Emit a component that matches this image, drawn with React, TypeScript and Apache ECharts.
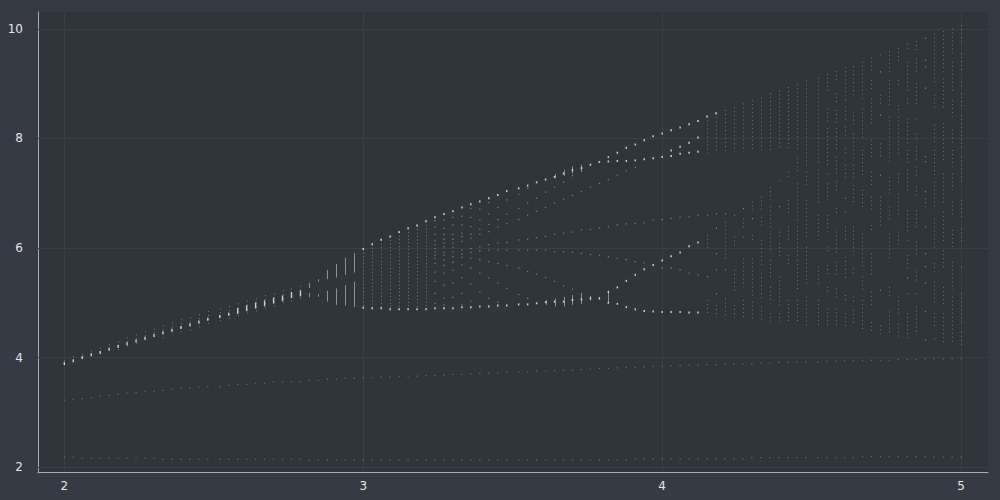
import React, { useEffect, useRef } from "react";
import * as echarts from "echarts";

// Parameter columns (x) of the diagram
const COLUMN_X = [
  2.0, 2.03, 2.06, 2.09, 2.12, 2.15, 2.18, 2.21, 2.24, 2.27,
  2.3, 2.33, 2.36, 2.39, 2.42, 2.45, 2.48, 2.52, 2.55, 2.58,
  2.61, 2.64, 2.67, 2.7, 2.73, 2.76, 2.79, 2.82, 2.85, 2.88,
  2.91, 2.94, 2.97, 3.0, 3.03, 3.06, 3.09, 3.12, 3.15, 3.18,
  3.21, 3.24, 3.27, 3.3, 3.33, 3.36, 3.39, 3.42, 3.45, 3.48,
  3.52, 3.55, 3.58, 3.61, 3.64, 3.67, 3.7, 3.73, 3.76, 3.79,
  3.82, 3.85, 3.88, 3.91, 3.94, 3.97, 4.0, 4.03, 4.06, 4.09,
  4.12, 4.15, 4.18, 4.21, 4.24, 4.27, 4.3, 4.33, 4.36, 4.39,
  4.42, 4.45, 4.48, 4.52, 4.55, 4.58, 4.61, 4.64, 4.67, 4.7,
  4.73, 4.76, 4.79, 4.82, 4.85, 4.88, 4.91, 4.94, 4.97, 5.0,
];

const X_TICKS = [2, 3, 4, 5];
const Y_TICKS = [2, 4, 6, 8, 10];

// Bottom faint line (one value per column)
const FLOOR_Y = [
  2.18, 2.18, 2.16, 2.16, 2.16, 2.16, 2.16, 2.16, 2.16, 2.16,
  2.16, 2.14, 2.14, 2.14, 2.14, 2.14, 2.14, 2.14, 2.14, 2.14,
  2.14, 2.14, 2.14, 2.14, 2.14, 2.14, 2.14, 2.12, 2.12, 2.12,
  2.12, 2.12, 2.12, 2.12, 2.12, 2.12, 2.12, 2.12, 2.12, 2.12,
  2.12, 2.12, 2.12, 2.12, 2.12, 2.12, 2.13, 2.13, 2.13, 2.13,
  2.13, 2.13, 2.13, 2.13, 2.13, 2.13, 2.13, 2.13, 2.13, 2.13,
  2.13, 2.13, 2.13, 2.15, 2.15, 2.15, 2.15, 2.15, 2.15, 2.15,
  2.15, 2.15, 2.15, 2.15, 2.15, 2.15, 2.17, 2.17, 2.17, 2.17,
  2.17, 2.17, 2.17, 2.17, 2.17, 2.17, 2.17, 2.17, 2.19, 2.19,
  2.19, 2.19, 2.19, 2.19, 2.19, 2.19, 2.18, 2.18, 2.18, 2.18,
];

// Second faint line (one value per column)
const DRIFT_Y = [
  3.22, 3.24, 3.25, 3.27, 3.29, 3.31, 3.33, 3.35, 3.36, 3.38,
  3.38, 3.4, 3.42, 3.44, 3.44, 3.46, 3.47, 3.47, 3.49, 3.51,
  3.51, 3.53, 3.53, 3.55, 3.55, 3.56, 3.56, 3.58, 3.58, 3.6,
  3.6, 3.62, 3.62, 3.63, 3.63, 3.64, 3.64, 3.65, 3.66, 3.66,
  3.67, 3.67, 3.68, 3.69, 3.69, 3.7, 3.71, 3.71, 3.72, 3.73,
  3.73, 3.74, 3.75, 3.75, 3.76, 3.77, 3.77, 3.78, 3.79, 3.8,
  3.8, 3.81, 3.82, 3.82, 3.83, 3.84, 3.84, 3.85, 3.85, 3.86,
  3.86, 3.87, 3.87, 3.88, 3.88, 3.89, 3.89, 3.9, 3.9, 3.91,
  3.91, 3.92, 3.92, 3.92, 3.93, 3.93, 3.94, 3.94, 3.94, 3.95,
  3.95, 3.95, 3.96, 3.96, 3.96, 3.97, 3.97, 3.97, 3.98, 3.98,
];

// Single branch, columns 0..26
const STEM_CORE_Y = [
  3.89, 3.94, 4.0, 4.05, 4.09, 4.15, 4.2, 4.25, 4.3, 4.35, 4.4, 4.45, 4.5, 4.55,
  4.6, 4.65, 4.7, 4.75, 4.79, 4.85, 4.9, 4.95, 4.99, 5.04, 5.08, 5.14, 5.17,
];
const STEM_LOW_Y = [
  3.86, 3.91, 3.95, 4.0, 4.04, 4.09, 4.13, 4.18, 4.22, 4.28, 4.31, 4.35, 4.41, 4.44,
  4.49, 4.53, 4.57, 4.62, 4.66, 4.7, 4.75, 4.81, 4.85, 4.9, 4.95, 4.99, 5.04,
];
const STEM_HIGH_Y = [
  3.95, 4.02, 4.07, 4.13, 4.18, 4.24, 4.3, 4.37, 4.42, 4.48, 4.53, 4.59, 4.64, 4.7,
  4.73, 4.79, 4.85, 4.9, 4.94, 4.99, 5.04, 5.08, 5.14, 5.17, 5.23, 5.26, 5.31,
];

// Two-branch segments, columns 27..32
const SPLIT_START = 27;
const SPLIT_UPPER = [
  [5.27, 5.36], [5.38, 5.43], [5.43, 5.6], [5.46, 5.71], [5.51, 5.82], [5.55, 5.91],
];
const SPLIT_LOWER = [
  [5.1, 5.18], [5.11, 5.16], [5.02, 5.22], [4.96, 5.26], [4.95, 5.32], [4.92, 5.38],
];

// Outer arms from column 33
const ARM_START = 33;
const UPPER_ARM_Y = [
  5.98, 6.07, 6.15, 6.21, 6.29, 6.36, 6.41, 6.49,
  6.56, 6.62, 6.67, 6.74, 6.8, 6.85, 6.91, 6.97, 7.04, 7.09, 7.14, 7.2, 7.25, 7.3,
  7.36, 7.42, 7.46, 7.52,
  7.57, 7.66, 7.74, 7.83, 7.89, 7.97, 8.04, 8.09, 8.15, 8.2, 8.26, 8.32, 8.4, 8.46,
  8.52, 8.57, 8.64, 8.7, 8.75, 8.83, 8.88, 8.94, 8.99, 9.06, 9.11, 9.18, 9.23, 9.3,
  9.32, 9.4, 9.48, 9.54, 9.6, 9.65, 9.73, 9.78, 9.83, 9.92, 9.96, 10.01, 10.07,
];
const LOWER_ARM_Y = [
  4.91, 4.9, 4.9, 4.88, 4.88, 4.88, 4.88, 4.88, 4.9, 4.9, 4.9, 4.92, 4.92, 4.93,
  4.93, 4.95, 4.95, 4.97, 4.97, 4.99, 5.01, 5.02, 5.02, 5.05, 5.06, 5.08, 5.08,
  5.0, 4.98, 4.92, 4.88, 4.85, 4.84, 4.83, 4.83, 4.83, 4.82, 4.82,
];
const DENSE_COLUMNS = 8; // columns 33..40 filled between the arms

// Second period doubling, from column 60
const FORK_START = 60;
const RISING_ARM_Y = [5.2, 5.28, 5.4, 5.51, 5.61, 5.69, 5.77, 5.85, 5.92, 6.03, 6.1];
const UPPER_INNER_Y = [7.58, 7.59, 7.59, 7.6, 7.62, 7.64, 7.66, 7.68, 7.72, 7.74, 7.76];
const UPPER_FORK_START = 67;
const UPPER_FORK_Y = [7.78, 7.85, 7.92, 8.02];

const LOWER_STREAK_START = 53;
const LOWER_STREAKS = [
  [4.96, 5.05], [4.93, 5.08], [4.93, 5.11], [4.96, 5.14], [4.98, 5.18], [5.04, 5.12],
  [5.06, 5.1], [5.0, 5.2],
];
const UPPER_STREAK_START = 54;
const UPPER_STREAKS = [[7.27, 7.35], [7.32, 7.43], [7.36, 7.49], [7.39, 7.52]];

// Sparse dots between the arms, columns 41..70
const MID_START = 41;
const MID_DOTS = [
  [6.5, 6.38, 6.25, 6.13, 6.06, 5.99, 5.93, 5.87, 5.81, 5.72, 5.56, 5.39, 5.17, 4.99],
  [6.51, 6.36, 6.25, 6.16, 6.09, 6.02, 5.92, 5.87, 5.78, 5.68, 5.54, 5.32, 5.08, 4.96],
  [6.56, 6.42, 6.25, 6.16, 6.09, 6.01, 5.93, 5.84, 5.74, 5.59, 5.36, 5.1],
  [6.58, 6.42, 6.27, 6.21, 6.12, 5.96, 5.89, 5.83, 5.69, 5.46, 5.17, 4.96],
  [6.72, 6.56, 6.39, 6.25, 6.18, 5.99, 5.92, 5.81, 5.63, 5.34, 5.03],
  [6.71, 6.51, 6.34, 6.25, 6.02, 5.95, 5.79, 5.54, 5.19],
  [6.83, 6.62, 6.43, 6.3, 6.06, 5.96, 5.75, 5.45, 5.08],
  [6.74, 6.52, 6.38, 6.09, 5.96, 5.72, 5.36, 5.01],
  [6.88, 6.62, 6.45, 6.1, 5.96, 5.68, 5.26],
  [6.98, 6.72, 6.52, 6.15, 5.96, 5.63, 5.15],
  [7.09, 6.82, 6.6, 6.16, 5.96, 5.57, 5.08],
  [6.91, 6.67, 6.19, 5.96, 5.52],
  [7.02, 6.74, 6.21, 5.96, 5.46],
  [7.11, 6.82, 6.25, 5.93, 5.39],
  [7.2, 6.89, 6.27, 5.93, 5.31],
  [7.32, 6.96, 6.29, 5.92, 5.25],
  [7.03, 6.33, 5.9],
  [7.11, 6.34, 5.88],
  [7.18, 6.36, 5.87],
  [7.25, 6.39, 5.84],
  [7.33, 6.42, 5.81],
  [7.41, 6.44, 5.79],
  [7.47, 6.45, 5.75],
  [6.46, 5.73],
  [6.51],
  [6.52, 5.63],
  [6.54, 5.63],
  [6.56, 5.6],
  [6.57, 5.54],
  [6.6, 5.51],
];

// Chaotic columns 71..99: dotted stretches [low, high]
const CHAOS_START = 71;
const CHAOS = [
  [[7.73, 8.4], [6.6, 6.6], [5.96, 6.24], [5.48, 5.48], [4.76, 5.05]],
  [[7.76, 8.46], [6.63, 6.63], [6.36, 6.36], [5.9, 5.9], [5.6, 5.6], [5.17, 5.17], [4.73, 4.96]],
  [[7.76, 8.52], [6.63, 6.63], [5.78, 6.48], [5.6, 5.6], [4.75, 5.08]],
  [[7.76, 8.57], [6.6, 6.6], [6.02, 6.21], [5.17, 5.6], [4.73, 4.96]],
  [[7.76, 8.64], [6.72, 6.72], [6.36, 6.54], [6.15, 6.21], [5.29, 5.81], [4.72, 5.05]],
  [[7.79, 8.7], [6.69, 6.85], [6.54, 6.54], [6.09, 6.24], [5.11, 5.81], [4.69, 5.02]],
  [[7.79, 8.75], [6.69, 6.94], [6.39, 6.57], [5.66, 6.15], [5.08, 5.54], [4.67, 4.93]],
  [[7.79, 8.83], [6.88, 7.11], [6.33, 6.76], [5.9, 6.27], [5.42, 5.78], [4.99, 5.29], [4.65, 4.81]],
  [[7.79, 8.88], [7.18, 7.24], [6.76, 6.76], [6.21, 6.3], [5.84, 6.09], [4.93, 5.48], [4.65, 4.81]],
  [[7.79, 8.94], [7.27, 7.39], [6.63, 6.88], [6.15, 6.39], [5.66, 5.87], [4.62, 5.05]],
  [[7.79, 8.99], [7.36, 7.64], [6.45, 7.18], [5.84, 6.39], [5.23, 5.78], [4.61, 5.05]],
  [[7.49, 9.06], [7.12, 7.39], [6.15, 6.88], [5.29, 6.02], [4.58, 5.11]],
  [[7.55, 9.11], [6.82, 7.43], [6.15, 6.6], [5.29, 5.66], [4.59, 5.05]],
  [[8.83, 9.18], [8.28, 8.55], [7.49, 8.19], [7.3, 7.36], [6.85, 7.18], [6.3, 6.6], [5.9, 6.03], [5.48, 5.69], [5.14, 5.29], [4.56, 4.9]],
  [[9.04, 9.23], [8.64, 8.83], [8.25, 8.52], [7.79, 8.19], [7.3, 7.67], [7.0, 7.21], [6.63, 6.73], [5.9, 6.3], [5.48, 5.75], [5.05, 5.26], [4.53, 4.9]],
  [[8.67, 9.3], [8.34, 8.58], [8.03, 8.22], [7.73, 7.82], [7.27, 7.52], [6.91, 6.91], [6.6, 6.66], [6.09, 6.39], [5.42, 5.84], [4.99, 5.14], [4.53, 4.81]],
  [[8.73, 9.32], [8.25, 8.49], [7.64, 8.09], [7.27, 7.52], [6.79, 7.15], [5.87, 6.39], [5.48, 5.63], [5.02, 5.11], [4.59, 4.87]],
  [[8.73, 9.4], [7.97, 8.55], [7.3, 7.79], [6.73, 7.06], [5.66, 6.27], [5.23, 5.48], [4.47, 5.05]],
  [[9.19, 9.48], [8.89, 9.07], [8.22, 8.73], [7.64, 7.97], [7.15, 7.39], [6.66, 6.94], [6.33, 6.42], [5.48, 5.9], [4.96, 5.2], [4.47, 4.65]],
  [[9.5, 9.54], [9.22, 9.22], [8.61, 8.8], [8.43, 8.43], [7.67, 7.91], [7.33, 7.33], [6.36, 6.94], [5.23, 5.23], [4.43, 4.59]],
  [[9.22, 9.6], [8.58, 9.07], [7.52, 8.4], [6.97, 7.3], [6.51, 6.76], [5.81, 6.27], [5.11, 5.29], [4.41, 4.84]],
  [[9.37, 9.65], [8.95, 9.07], [8.52, 8.61], [7.67, 8.4], [7.18, 7.36], [6.57, 7.0], [6.02, 6.3], [4.78, 5.11], [4.38, 4.62]],
  [[9.59, 9.73], [8.83, 9.4], [8.64, 8.73], [7.91, 8.37], [7.55, 7.79], [7.0, 7.43], [6.27, 6.69], [6.09, 6.15], [5.6, 5.87], [5.45, 5.45], [5.14, 5.17], [4.35, 4.81]],
  [[9.56, 9.78], [9.22, 9.46], [8.58, 9.01], [8.34, 8.37], [7.94, 8.09], [7.61, 7.85], [7.3, 7.49], [6.94, 7.12], [6.36, 6.69], [5.84, 6.12], [5.36, 5.57], [5.11, 5.17], [4.41, 4.93]],
  [[9.83, 9.83], [9.43, 9.43], [9.31, 9.31], [8.92, 8.92], [7.67, 7.67], [7.58, 7.58], [7.03, 7.03], [6.73, 6.91], [6.39, 6.39], [5.9, 5.9], [5.66, 5.66], [5.36, 5.36], [4.84, 4.84], [4.32, 4.32]],
  [[9.01, 9.92], [8.52, 8.8], [7.91, 8.25], [7.3, 7.79], [6.69, 7.21], [5.96, 6.54], [5.54, 5.72], [4.99, 5.39], [4.56, 4.81], [4.29, 4.35]],
  [[9.22, 9.96], [8.52, 9.1], [7.55, 8.28], [6.82, 7.36], [6.09, 6.66], [5.6, 5.96], [4.93, 5.29], [4.27, 4.81]],
  [[9.56, 10.01], [8.83, 9.4], [8.4, 8.7], [7.91, 8.16], [7.49, 7.79], [7.06, 7.36], [6.57, 6.85], [5.96, 6.33], [5.23, 5.75], [4.26, 5.11]],
  [[9.71, 10.07], [9.19, 9.56], [8.95, 9.04], [8.58, 8.83], [7.79, 8.43], [7.18, 7.67], [6.57, 6.88], [6.09, 6.36], [5.6, 5.66], [4.62, 5.17], [4.21, 4.47]],
];

// ---------- helpers that pair values with their columns ----------
const pointsFrom = (start: number, ys: number[]) =>
  ys.map((y, k) => [COLUMN_X[start + k], y]);
const rangesFrom = (start: number, pairs: number[][]) =>
  pairs.map((p, k) => [COLUMN_X[start + k], p[0], p[1]]);
const dotsFrom = (start: number, groups: number[][]) => {
  const out: number[][] = [];
  groups.forEach((g, k) => g.forEach((y) => out.push([COLUMN_X[start + k], y])));
  return out;
};
const groupRangesFrom = (start: number, groups: number[][][]) => {
  const out: number[][] = [];
  groups.forEach((g, k) => g.forEach((p) => out.push([COLUMN_X[start + k], p[0], p[1]])));
  return out;
};

const makeSegmentRenderer = (stroke: string, dash: number[] | null, dotFill: string) =>
  (params: any, api: any) => {
    const x = api.value(0);
    const lo = api.value(1);
    const hi = api.value(2);
    const a = api.coord([x, hi]);
    const b = api.coord([x, lo]);
    const px = Math.round(a[0]) + 0.5;
    if (b[1] - a[1] < 1.5) {
      return {
        type: "rect",
        shape: { x: px - 0.5, y: a[1] - 0.5, width: 1, height: 1.2 },
        style: { fill: dotFill },
      };
    }
    const style: any = { stroke, lineWidth: 1, fill: null };
    if (dash) style.lineDash = dash;
    return {
      type: "line",
      shape: { x1: px, y1: a[1], x2: px, y2: b[1] },
      style,
    };
  };

const FAINT = "rgba(196,198,186,0.5)";
const DOT = "rgba(200,202,190,0.6)";
const BRIGHT = "#f4f4f0";

export default function App() {
  const ref = useRef<HTMLDivElement>(null);

  useEffect(() => {
    if (!ref.current) return;
    const chart = echarts.init(ref.current, null, { renderer: "svg" });

    const stemSpread = STEM_CORE_Y.map((_, i) => [COLUMN_X[i], STEM_LOW_Y[i], STEM_HIGH_Y[i]]);
    const dense = UPPER_ARM_Y.slice(0, DENSE_COLUMNS).map((top, k) => [
      COLUMN_X[ARM_START + k],
      LOWER_ARM_Y[k],
      top,
    ]);
    const brightArms = [
      ...pointsFrom(ARM_START, UPPER_ARM_Y.slice(0, 40)),
      ...pointsFrom(ARM_START, LOWER_ARM_Y),
      ...pointsFrom(FORK_START, RISING_ARM_Y),
      ...pointsFrom(FORK_START, UPPER_INNER_Y),
      ...pointsFrom(UPPER_FORK_START, UPPER_FORK_Y),
    ];

    const axisCommon = {
      type: "value" as const,
      axisLine: { show: true, onZero: false, lineStyle: { color: "#a9abb0", width: 1 } },
      splitLine: { show: false },
    };

    chart.setOption({
      animation: false,
      backgroundColor: "#363a44",
      grid: {
        left: 38,
        top: 12,
        right: 12,
        bottom: 28,
        show: true,
        backgroundColor: "#30343b",
        borderWidth: 0,
      },
      xAxis: {
        ...axisCommon,
        min: 1.912,
        max: 5.09,
        axisTick: {
          show: true,
          inside: true,
          length: 5,
          customValues: X_TICKS,
          lineStyle: { color: "#a9abb0" },
        },
        axisLabel: {
          customValues: X_TICKS,
          color: "#e6e6e6",
          fontSize: 12,
          fontFamily: "DejaVu Sans",
          margin: 8,
        },
      },
      yAxis: {
        ...axisCommon,
        min: 1.909,
        max: 10.31,
        axisTick: {
          show: true,
          inside: true,
          length: 5,
          customValues: Y_TICKS,
          lineStyle: { color: "#a9abb0" },
        },
        axisLabel: {
          customValues: Y_TICKS,
          color: "#e6e6e6",
          fontSize: 12,
          fontFamily: "DejaVu Sans",
          margin: 15,
        },
      },
      series: [
        {
          type: "scatter",
          silent: true,
          symbol: "rect",
          symbolSize: 1.2,
          itemStyle: { color: FAINT },
          data: pointsFrom(0, FLOOR_Y),
          z: 2,
          markLine: {
            silent: true,
            symbol: ["none", "none"],
            label: { show: false },
            lineStyle: { color: "#3a3e47", width: 1, type: "solid" },
            data: [
              ...X_TICKS.map((v) => ({ xAxis: v })),
              ...Y_TICKS.map((v) => ({ yAxis: v })),
            ],
            z: 1,
          },
        },
        {
          type: "scatter",
          silent: true,
          symbol: "rect",
          symbolSize: 1.2,
          itemStyle: { color: FAINT },
          data: pointsFrom(0, DRIFT_Y),
          z: 2,
        },
        {
          type: "custom",
          silent: true,
          renderItem: makeSegmentRenderer("rgba(190,192,184,0.5)", [1, 3], DOT),
          encode: { x: 0, y: [1, 2] },
          data: stemSpread,
          z: 3,
        },
        {
          type: "scatter",
          silent: true,
          symbol: "rect",
          symbolSize: (_v: any, p: any) => (p.dataIndex > 18 ? [1.4, 6] : [1.4, 3]),
          itemStyle: { color: BRIGHT },
          data: pointsFrom(0, STEM_CORE_Y),
          z: 5,
        },
        {
          type: "custom",
          silent: true,
          renderItem: makeSegmentRenderer("rgba(205,206,200,0.6)", null, BRIGHT),
          encode: { x: 0, y: [1, 2] },
          data: [...rangesFrom(SPLIT_START, SPLIT_UPPER), ...rangesFrom(SPLIT_START, SPLIT_LOWER)],
          z: 4,
        },
        {
          type: "custom",
          silent: true,
          renderItem: makeSegmentRenderer("rgba(190,192,182,0.5)", [1, 2.5], DOT),
          encode: { x: 0, y: [1, 2] },
          data: dense,
          z: 3,
        },
        {
          type: "scatter",
          silent: true,
          symbol: "rect",
          symbolSize: 1.3,
          itemStyle: { color: DOT },
          data: dotsFrom(MID_START, MID_DOTS),
          z: 3,
        },
        {
          type: "custom",
          silent: true,
          renderItem: makeSegmentRenderer("rgba(200,202,194,0.6)", null, BRIGHT),
          encode: { x: 0, y: [1, 2] },
          data: [
            ...rangesFrom(LOWER_STREAK_START, LOWER_STREAKS),
            ...rangesFrom(UPPER_STREAK_START, UPPER_STREAKS),
          ],
          z: 4,
        },
        {
          type: "custom",
          silent: true,
          renderItem: makeSegmentRenderer("rgba(190,192,172,0.48)", [1, 3], DOT),
          encode: { x: 0, y: [1, 2] },
          data: groupRangesFrom(CHAOS_START, CHAOS),
          z: 3,
        },
        {
          type: "scatter",
          silent: true,
          symbol: "rect",
          symbolSize: [1.5, 2],
          itemStyle: { color: BRIGHT },
          data: brightArms,
          z: 6,
        },
      ],
    });

    return () => chart.dispose();
  }, []);

  return (
    <div
      ref={ref}
      style={{ position: "fixed", left: 0, top: 0, width: 1000, height: 500 }}
    />
  );
}
